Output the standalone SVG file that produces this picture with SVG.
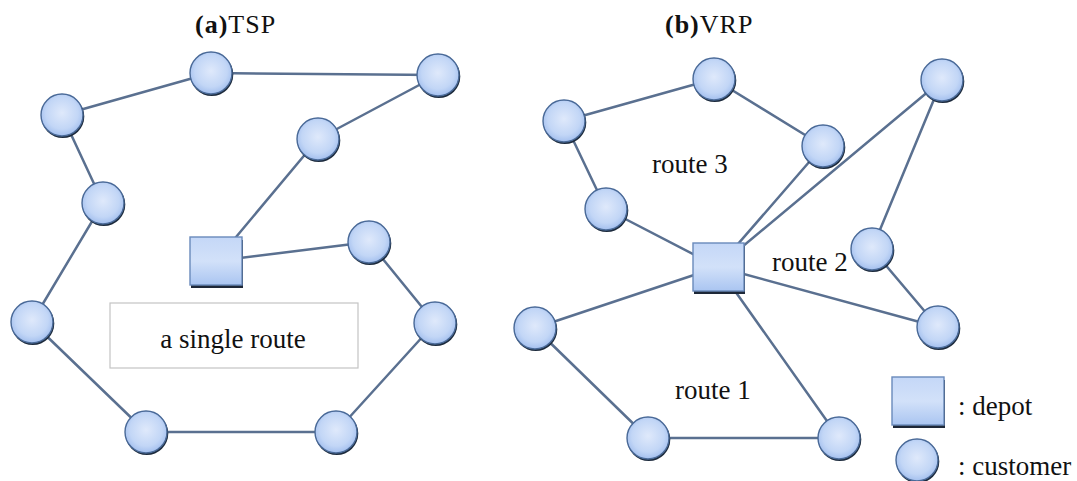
<svg xmlns="http://www.w3.org/2000/svg" width="1077" height="481" viewBox="0 0 1077 481">
<defs>
<radialGradient id="cg" cx="0.5" cy="0.45" r="0.55">
<stop offset="0" stop-color="#dfe9fb"/>
<stop offset="0.7" stop-color="#c2d6f6"/>
<stop offset="1" stop-color="#a3bfee"/>
</radialGradient>
<linearGradient id="sg" x1="0" y1="0" x2="0" y2="1">
<stop offset="0" stop-color="#c4d7f7"/>
<stop offset="0.5" stop-color="#d2e1f9"/>
<stop offset="1" stop-color="#aac5f1"/>
</linearGradient>
<g id="cust">
<circle cx="0.8" cy="1.6" r="21.5" fill="#1d2b3d"/>
<circle cx="0" cy="0" r="21" fill="url(#cg)" stroke="#4a6a98" stroke-width="1.4"/>
</g>
</defs>
<style>
.edge{stroke:#5a7090;stroke-width:2.5;fill:none;stroke-linecap:round}
.sq{fill:url(#sg);stroke:#6a8abb;stroke-width:1.4}
.sqs{fill:#1e2838}
.lbl{font-family:"Liberation Serif","Times New Roman",serif;font-size:27px;fill:#111}
.ttl{font-family:"Liberation Serif","Times New Roman",serif;font-size:26px;fill:#111;letter-spacing:1px}
.box{fill:#fff;stroke:#c4c4c4;stroke-width:1.2}
</style>
<rect width="1077" height="481" fill="#fff"/>

<text class="ttl" x="195" y="33"><tspan font-weight="bold">(a)</tspan>TSP</text>
<text class="ttl" x="665" y="33"><tspan font-weight="bold">(b)</tspan>VRP</text>

<g id="connectors">
<!-- TSP -->
<line class="edge" x1="211" y1="73" x2="438" y2="75"/>
<line class="edge" x1="211" y1="73" x2="62" y2="115"/>
<line class="edge" x1="438" y1="75" x2="318" y2="139"/>
<line class="edge" x1="318" y1="139" x2="216" y2="261"/>
<line class="edge" x1="62" y1="115" x2="103" y2="203"/>
<line class="edge" x1="103" y1="203" x2="32" y2="322"/>
<line class="edge" x1="32" y1="322" x2="146" y2="432"/>
<line class="edge" x1="146" y1="432" x2="336" y2="432"/>
<line class="edge" x1="336" y1="432" x2="435" y2="323"/>
<line class="edge" x1="435" y1="323" x2="369" y2="242"/>
<line class="edge" x1="369" y1="242" x2="216" y2="261"/>
<!-- VRP route 3 -->
<line class="edge" x1="718" y1="267" x2="606" y2="209"/>
<line class="edge" x1="606" y1="209" x2="564" y2="121"/>
<line class="edge" x1="564" y1="121" x2="714" y2="79"/>
<line class="edge" x1="714" y1="79" x2="823" y2="146"/>
<line class="edge" x1="823" y1="146" x2="718" y2="267"/>
<!-- route 2 -->
<line class="edge" x1="718" y1="267" x2="942" y2="80"/>
<line class="edge" x1="942" y1="80" x2="872" y2="249"/>
<line class="edge" x1="872" y1="249" x2="938" y2="327"/>
<line class="edge" x1="938" y1="327" x2="718" y2="267"/>
<!-- route 1 -->
<line class="edge" x1="718" y1="267" x2="535" y2="328"/>
<line class="edge" x1="535" y1="328" x2="648" y2="438"/>
<line class="edge" x1="648" y1="438" x2="839" y2="438"/>
<line class="edge" x1="839" y1="438" x2="718" y2="267"/>
</g>

<g id="tsp-label-box">
<rect class="box" x="110" y="303" width="248" height="65"/>
<text class="lbl" x="233" y="348" text-anchor="middle" font-size="28">a single route</text>
</g>

<g id="tsp-depot"><rect class="sqs" x="191" y="240" width="52" height="48"/><rect class="sq" x="190" y="237" width="52" height="48"/></g>
<g id="tsp-c1"><use href="#cust" x="211" y="73"/></g>
<g id="tsp-c2"><use href="#cust" x="438" y="75"/></g>
<g id="tsp-c3"><use href="#cust" x="62" y="115"/></g>
<g id="tsp-c4"><use href="#cust" x="318" y="139"/></g>
<g id="tsp-c5"><use href="#cust" x="103" y="203"/></g>
<g id="tsp-c6"><use href="#cust" x="369" y="242"/></g>
<g id="tsp-c7"><use href="#cust" x="32" y="322"/></g>
<g id="tsp-c8"><use href="#cust" x="435" y="323"/></g>
<g id="tsp-c9"><use href="#cust" x="146" y="432"/></g>
<g id="tsp-c10"><use href="#cust" x="336" y="432"/></g>

<g id="vrp-depot"><rect class="sqs" x="694" y="246" width="51" height="48"/><rect class="sq" x="693" y="243" width="51" height="48"/></g>
<g id="vrp-c1"><use href="#cust" x="564" y="121"/></g>
<g id="vrp-c2"><use href="#cust" x="714" y="79"/></g>
<g id="vrp-c3"><use href="#cust" x="823" y="146"/></g>
<g id="vrp-c4"><use href="#cust" x="942" y="80"/></g>
<g id="vrp-c5"><use href="#cust" x="606" y="209"/></g>
<g id="vrp-c6"><use href="#cust" x="872" y="249"/></g>
<g id="vrp-c7"><use href="#cust" x="938" y="327"/></g>
<g id="vrp-c8"><use href="#cust" x="535" y="328"/></g>
<g id="vrp-c9"><use href="#cust" x="648" y="438"/></g>
<g id="vrp-c10"><use href="#cust" x="839" y="438"/></g>

<g id="route-labels">
<text class="lbl" x="652" y="173">route 3</text>
<text class="lbl" x="772" y="271">route 2</text>
<text class="lbl" x="675" y="399">route 1</text>
</g>

<g id="legend">
<rect class="sqs" x="893" y="380" width="52" height="48"/>
<rect class="sq" x="892" y="377" width="52" height="48"/>
<text class="lbl" x="958" y="415">: depot</text>
<use href="#cust" x="917" y="460"/>
<text class="lbl" x="958" y="475">: customer</text>
</g>
</svg>
